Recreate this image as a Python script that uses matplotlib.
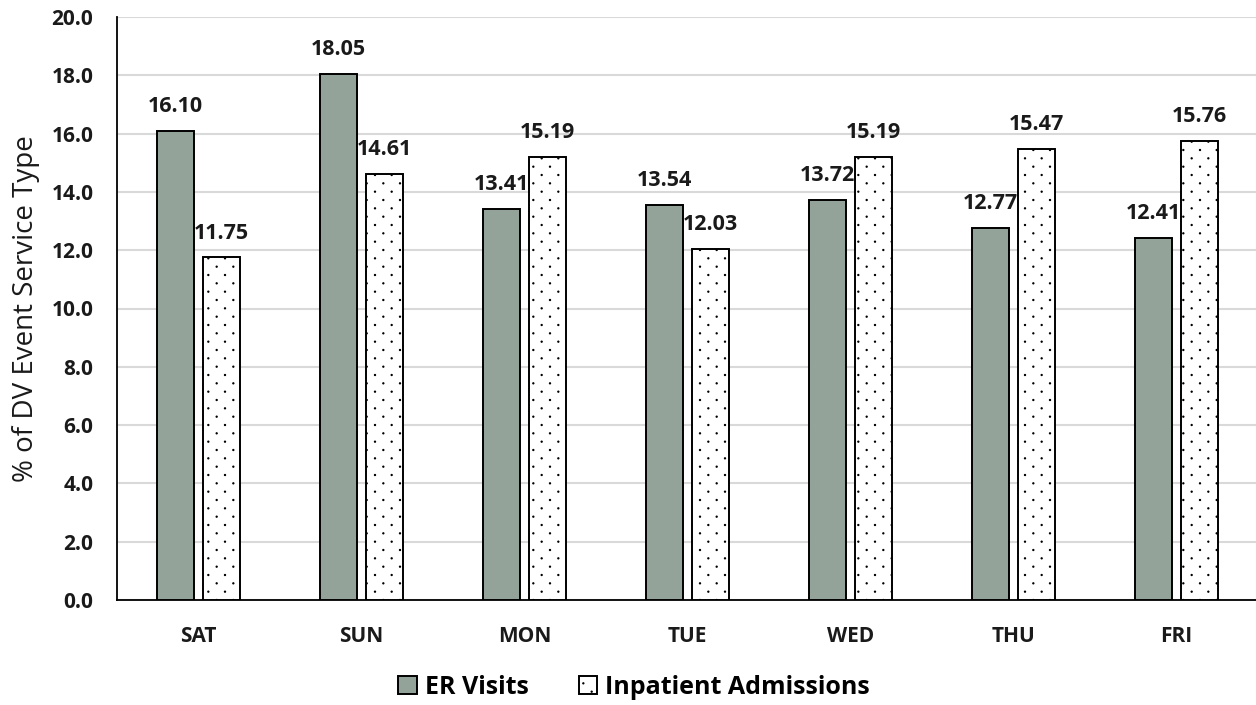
import numpy as np
import matplotlib.pyplot as plt
import matplotlib.hatch as mhatch
from matplotlib.path import Path

days = ['SAT', 'SUN', 'MON', 'TUE', 'WED', 'THU', 'FRI']
er_visits = [16.10, 18.05, 13.41, 13.54, 13.72, 12.77, 12.41]
inpatient = [11.75, 14.61, 15.19, 12.03, 15.19, 15.47, 15.76]


class StaggeredDots(mhatch.HatchPatternBase):
    # sparse Excel-like dot fill: 6 dots per inch across, rows every 1/12 inch, odd rows shifted
    def __init__(self, hatch, density):
        self.centers = []
        if hatch.count('.'):
            cols, rows = 6, 12
            for r in range(rows + 1):
                shift = 0.5 if r % 2 else 0.0
                for c in range(cols + 1):
                    xc = (c + shift) / cols
                    if xc <= 1.0:
                        self.centers.append((xc, r / rows))
        circle = Path.unit_circle()
        self.shape_vertices = circle.vertices * 0.006
        self.shape_codes = circle.codes
        self.num_vertices = len(self.centers) * len(self.shape_vertices)

    def set_vertices_and_codes(self, vertices, codes):
        k = len(self.shape_vertices)
        for i, (xc, yc) in enumerate(self.centers):
            vertices[i * k:(i + 1) * k] = self.shape_vertices + [xc, yc]
            codes[i * k:(i + 1) * k] = self.shape_codes


mhatch._hatch_types = [StaggeredDots if t is mhatch.SmallFilledCircles else t
                       for t in mhatch._hatch_types]

plt.rcParams['font.family'] = ['Open Sans', 'DejaVu Sans']
plt.rcParams['hatch.linewidth'] = 0.8

fig = plt.figure(figsize=(12.56, 7.05), dpi=100)
ax = fig.add_axes([117 / 1256, 105 / 705, 1139 / 1256, 583 / 705])

x = np.arange(len(days))
w = 0.227
off = 0.14

b1 = ax.bar(x - off, er_visits, w, color='#94A39A', edgecolor='black', linewidth=1.4,
            label='ER Visits', zorder=3)
b2 = ax.bar(x + off, inpatient, w, color='white', edgecolor='black', linewidth=1.4,
            hatch='.', label='Inpatient Admissions', zorder=3)

for bars, vals in [(b1, er_visits), (b2, inpatient)]:
    for r, v in zip(bars, vals):
        ax.annotate(f'{v:.2f}', (r.get_x() + r.get_width() / 2, v), xytext=(0, 10),
                    textcoords='offset points', ha='center', va='bottom',
                    fontsize=15.5, fontweight='bold', color='#1a1a1a')

ax.set_xlim(-0.5, 6.5 - 0.012)
ax.set_ylim(0, 20)
ax.set_yticks(np.arange(0, 20.1, 2))
ax.set_yticklabels([f'{t:.1f}' for t in np.arange(0, 20.1, 2)])
ax.set_xticks(x)
ax.set_xticklabels(days)
ax.tick_params(axis='both', length=0, labelsize=15, colors='#1a1a1a')
for lab in ax.get_xticklabels() + ax.get_yticklabels():
    lab.set_fontweight('bold')
ax.tick_params(axis='x', pad=19)
ax.tick_params(axis='y', pad=17)

ax.grid(axis='y', color='#D9D9D9', linewidth=1.5, zorder=0)
ax.spines['top'].set_visible(False)
ax.spines['right'].set_visible(False)
ax.spines['left'].set_linewidth(1.3)
ax.spines['bottom'].set_linewidth(1.3)

ax.set_ylabel('% of DV Event Service Type', fontsize=20, labelpad=8, color='#1a1a1a')

leg = fig.legend(handles=[b1, b2], loc='center', bbox_to_anchor=(634 / 1256, 1 - 687 / 705),
                 ncol=2, frameon=False, handlelength=0.75, handleheight=0.75,
                 handletextpad=0.3, columnspacing=2.0, prop={'weight': 'bold', 'size': 18})

fig.savefig('out.png', dpi=100)
